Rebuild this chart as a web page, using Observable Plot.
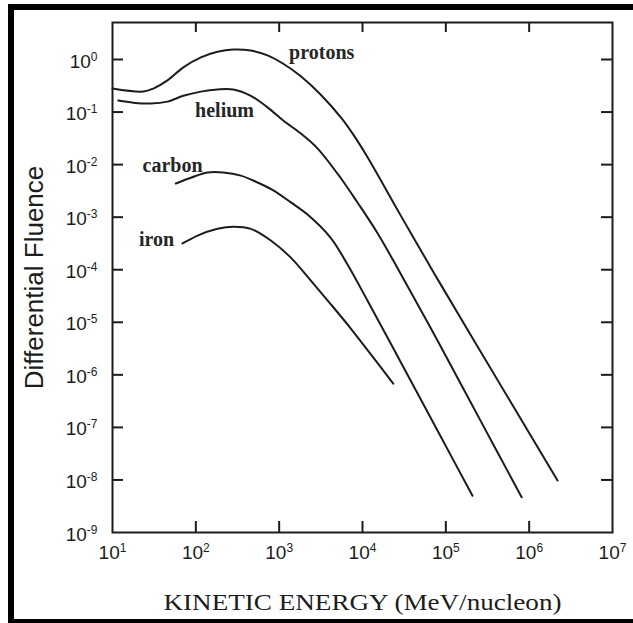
<!DOCTYPE html>
<html><head><meta charset="utf-8">
<script src="https://cdn.jsdelivr.net/npm/d3@7"></script>
<script src="https://cdn.jsdelivr.net/npm/@observablehq/plot@0.6"></script>
<style>
html,body{margin:0;padding:0;background:#fff;overflow:hidden;width:633px;height:623px;}
#chart{position:absolute;left:0;top:0;}
#border{position:absolute;left:8px;top:4px;width:640px;height:619px;border-left:6px solid #000;border-top:6px solid #000;border-bottom:4px solid #000;box-sizing:border-box;pointer-events:none;}
</style></head><body>
<div id="chart"></div><div id="border"></div>
<script>
// Energies (MeV/nucleon) and differential fluences
const protonsEnergy  = [10, 23.4, 30.9, 45.7, 70.8, 115, 182, 282, 457, 724, 1120, 1820, 3160, 5500, 7760, 11500, 28800, 70800, 214000, 2190000];
const protonsFluence = [0.28, 0.245, 0.28, 0.40, 0.71, 1.10, 1.41, 1.55, 1.48, 1.20, 0.83, 0.48, 0.214, 0.079, 0.0372, 0.0138, 0.00107, 9.1e-5, 4.7e-6, 9.8e-9];

const heliumEnergy  = [11.7, 17.8, 28.8, 45.7, 70.8, 115, 182, 282, 457, 724, 1120, 1820, 2880, 5500, 8710, 15100, 28800, 79400, 251000, 813000];
const heliumFluence = [0.166, 0.151, 0.145, 0.158, 0.204, 0.245, 0.269, 0.269, 0.204, 0.123, 0.069, 0.039, 0.0204, 0.0055, 0.0019, 5.0e-4, 8.3e-5, 4.5e-6, 1.5e-7, 4.7e-9];

const carbonEnergy  = [57.5, 87.1, 138, 214, 347, 550, 851, 1380, 2190, 4170, 6610, 11500, 31600, 79400, 209000];
const carbonFluence = [0.00437, 0.00562, 0.00708, 0.00708, 0.00617, 0.00457, 0.00324, 0.00191, 0.00112, 4.0e-4, 1.26e-4, 2.57e-5, 1.32e-6, 8.7e-8, 5.0e-9];

const ironEnergy  = [69.2, 105, 182, 282, 457, 794, 1380, 2400, 4170, 7240, 11500, 23400];
const ironFluence = [3.16e-4, 4.47e-4, 6.0e-4, 6.6e-4, 6.0e-4, 3.6e-4, 1.7e-4, 6.2e-5, 2.2e-5, 7.6e-6, 2.95e-6, 6.8e-7];

const seriesNames = ["protons", "helium", "carbon", "iron"];
const labelEnergy  = [3240, 221, 52.5, 33.7];
const labelFluence = [1.36, 0.107, 0.0096, 3.76e-4];

const xTicks = [1e1, 1e2, 1e3, 1e4, 1e5, 1e6, 1e7];
const yTicks = [1e0, 1e-1, 1e-2, 1e-3, 1e-4, 1e-5, 1e-6, 1e-7, 1e-8, 1e-9];
const xInnerTicks = [1e2, 1e3, 1e4, 1e5, 1e6];
const yInnerTicks = [1e0, 1e-1, 1e-2, 1e-3, 1e-4, 1e-5, 1e-6, 1e-7, 1e-8];
const xDomain = [1e1, 1e7];
const yDomain = [1e-9, 5.06];

const xLabel = "KINETIC ENERGY (MeV/nucleon)";
const yLabel = "Differential Fluence";

const rows = [];
[[protonsEnergy, protonsFluence], [heliumEnergy, heliumFluence], [carbonEnergy, carbonFluence], [ironEnergy, ironFluence]]
  .forEach(([E, F], i) => E.forEach((e, j) => rows.push({series: seriesNames[i], E: e, F: F[j]})));
const labels = seriesNames.map((s, i) => ({name: s, E: labelEnergy[i], F: labelFluence[i]}));

const pow10 = d => "10^" + Math.round(Math.log10(d));

const W = 633, H = 623, mL = 112, mR = 21, mT = 22, mB = 91;
const pw = W - mL - mR, ph = H - mT - mB;
const ink = "#1c1c1c";
const sans = "'Liberation Sans', Arial, sans-serif";
const serif = "'Liberation Serif', 'Times New Roman', serif";

const chart = Plot.plot({
  width: W, height: H,
  marginLeft: mL, marginRight: mR, marginTop: mT, marginBottom: mB,
  style: {fontFamily: sans, fontSize: "19px", background: "transparent", color: ink},
  x: {type: "log", domain: xDomain},
  y: {type: "log", domain: yDomain},
  marks: [
    Plot.frame({stroke: ink, strokeWidth: 2}),
    Plot.tickY(yInnerTicks, {y: d => d, insetRight: pw - 11, stroke: ink, strokeWidth: 2}),
    Plot.tickY(yInnerTicks, {y: d => d, insetLeft: pw - 11, stroke: ink, strokeWidth: 2}),
    Plot.tickX(xInnerTicks, {x: d => d, insetBottom: ph - 10, stroke: ink, strokeWidth: 2}),
    Plot.tickX(xInnerTicks, {x: d => d, insetTop: ph - 11, stroke: ink, strokeWidth: 2}),
    Plot.axisY(yTicks, {tickSize: 0, tickPadding: 15, dy: 2, tickFormat: pow10, label: null, fill: ink}),
    Plot.axisX(xTicks, {tickSize: 0, tickPadding: 13, tickFormat: pow10, label: null, fill: ink}),
    Plot.line(rows, {x: "E", y: "F", z: "series", stroke: ink, strokeWidth: 2, curve: "catmull-rom"}),
    Plot.text(labels, {x: "E", y: "F", text: "name", fontFamily: serif, fontSize: 20, fontWeight: "bold", fill: "#262626"}),
    Plot.text([yLabel], {frameAnchor: "left", dx: -78, rotate: -90, textAnchor: "middle", lineAnchor: "middle", fontSize: 26, fill: ink}),
    Plot.text([xLabel], {frameAnchor: "bottom", dy: 70, textAnchor: "middle", lineAnchor: "middle", fontFamily: serif, fontSize: 23, fill: ink})
  ]
});
document.getElementById("chart").appendChild(chart);
const svg = d3.select(chart);
svg.selectAll("text").filter(function() { return this.textContent === xLabel; })
  .attr("textLength", 398).attr("lengthAdjust", "spacingAndGlyphs");
// Render tick labels "10^n" as 10 with a superscript exponent
svg.selectAll("text").filter(function() { return /^10\^/.test(this.textContent); }).each(function() {
  const exp = this.textContent.split("^")[1];
  const t = d3.select(this).style("font-size", "19px").style("font-family", sans);
  t.text(null);
  t.append("tspan").text("10");
  t.append("tspan").style("font-size", "12px").attr("dy", -7).text(exp);
});
</script>
</body></html>
